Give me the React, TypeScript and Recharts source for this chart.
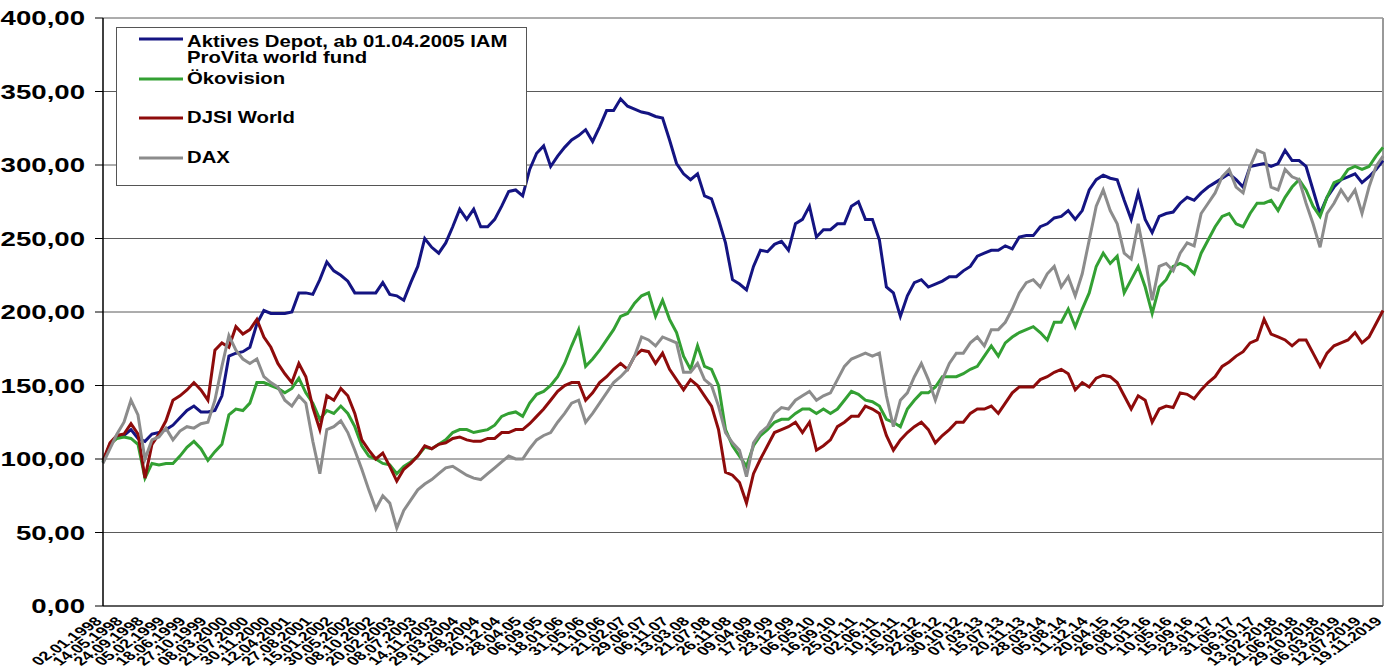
import React from 'react';
import { LineChart, Line, XAxis, YAxis, CartesianGrid, ReferenceLine } from 'recharts';

// tick labels, one every 3 data points
const tickLabels = [
  '02.01.1998', '14.05.1998', '24.09.1998', '05.02.1999', '18.06.1999', '27.10.1999',
  '08.03.2000', '21.07.2000', '30.11.2000', '12.04.2001', '27.08.2001', '15.01.2002',
  '30.05.2002', '08.10.2002', '20.02.2003', '08.07.2003', '14.11.2003', '29.03.2004',
  '11.08.2004', '20.12.04', '28.04.05', '06.09.05', '18.01.06', '31.05.06',
  '11.10.06', '21.02.07', '29.06.07', '06.11.07', '13.03.08', '21.07.08',
  '26.11.08', '09.04.09', '17.08.09', '23.12.09', '06.05.10', '16.09.10',
  '25.01.11', '02.06.11', '10.10.11', '15.02.12', '22.06.12', '30.10.12',
  '07.03.13', '15.07.13', '20.11.13', '28.03.14', '05.08.14', '11.12.14',
  '20.04.15', '26.08.15', '01.01.16', '10.05.16', '15.09.16', '23.01.17',
  '31.05.17', '06.10.17', '13.02.2018', '21.06.2018', '29.10.2018', '06.03.2019',
  '12.07.2019', '19.11.2019',
];

const depot = [
  98, 110, 115, 116, 120, 114, 112, 117, 118, 120, 123, 128, 133, 136, 132, 132,
  133, 143, 170, 172, 173, 176, 192, 201, 199, 199, 199, 200, 213, 213, 212, 222,
  234, 228, 225, 221, 213, 213, 213, 213, 220, 212, 211, 208, 220, 231, 250, 244,
  240, 247, 258, 270, 263, 270, 258, 258, 263, 272, 282, 283, 279, 297,
  308, 313, 299, 306, 312, 317, 320, 324, 316, 326, 337, 337, 345, 340, 338, 336,
  335, 333, 332, 317, 301, 294, 290, 294, 279, 277, 263, 247, 222, 219,
  215, 231, 242, 241, 246, 248, 242, 260, 263, 272, 251, 256, 256, 260, 260, 272,
  275, 263, 263, 249, 217, 213, 197, 211, 220, 222, 217, 219, 221, 224, 224, 228,
  231, 238, 240, 242, 242, 245, 243, 251, 252, 252, 258, 260, 264, 265, 269, 263,
  269, 283, 290, 293, 291, 290, 276, 263, 281, 263, 254, 265, 267, 268,
  274, 278, 276, 281, 285, 288, 291, 294, 290, 285, 299, 300, 301, 299, 301, 310,
  303, 303, 299, 283, 267, 278, 285, 290, 292, 294, 288, 292, 297, 303,
];

const oekovision = [
  98, 110, 114, 115, 114, 110, 87, 97, 96, 97, 97, 102, 108, 112, 107, 99,
  105, 110, 130, 134, 133, 138, 152, 152, 150, 148, 145, 148, 155, 145, 138, 127,
  133, 131, 136, 131, 122, 109, 102, 100, 97, 96, 90, 95, 98, 102, 108, 107,
  110, 113, 118, 120, 120, 118, 119, 120, 123, 129, 131, 132, 129, 138,
  144, 146, 150, 156, 165, 177, 188, 163, 168, 174, 181, 188, 197, 199, 206, 211,
  213, 197, 208, 195, 186, 170, 161, 177, 163, 161, 150, 120, 109, 102,
  95, 109, 116, 120, 125, 127, 127, 131, 134, 134, 131, 134, 131, 134, 140, 146,
  144, 140, 139, 136, 127, 125, 122, 134, 140, 145, 145, 149, 156, 156, 156, 158,
  161, 163, 170, 177, 170, 179, 183, 186, 188, 190, 186, 181, 193, 193, 202, 190,
  202, 213, 231, 240, 233, 238, 213, 222, 231, 217, 199, 217, 222, 231,
  233, 231, 226, 240, 249, 258, 265, 267, 260, 258, 267, 274, 274, 276, 269, 278,
  285, 290, 283, 272, 265, 278, 288, 290, 297, 299, 297, 299, 306, 312,
];

const djsi = [
  99, 111, 116, 117, 124, 117, 87, 110, 117, 126, 140, 143, 147, 152, 147, 140,
  174, 179, 176, 190, 185, 188, 195, 183, 176, 165, 158, 152, 165, 156, 135, 120,
  143, 140, 148, 143, 131, 113, 106, 100, 104, 95, 85, 93, 97, 102, 109, 107,
  110, 111, 114, 115, 113, 112, 112, 114, 114, 118, 118, 120, 120, 124,
  129, 134, 140, 146, 150, 152, 152, 140, 145, 152, 156, 161, 165, 161, 170, 174,
  173, 165, 172, 161, 154, 147, 154, 150, 143, 136, 120, 91, 89, 84,
  70, 90, 100, 109, 118, 120, 122, 125, 118, 125, 106, 109, 113, 122, 125, 129,
  129, 136, 134, 131, 116, 106, 113, 118, 122, 125, 120, 111, 116, 120, 125, 125,
  131, 134, 134, 136, 131, 138, 145, 149, 149, 149, 154, 156, 159, 161, 158, 147,
  152, 149, 155, 157, 156, 152, 143, 134, 143, 140, 125, 134, 136, 135,
  145, 144, 141, 147, 152, 156, 163, 166, 170, 173, 179, 181, 195, 185, 183, 181,
  177, 181, 181, 172, 163, 172, 177, 179, 181, 186, 179, 183, 192, 201,
];

const dax = [
  97, 107, 117, 125, 140, 130, 100, 113, 115, 121, 113, 119, 122, 121, 124, 125,
  140, 163, 184, 174, 168, 165, 168, 156, 152, 149, 140, 136, 143, 138, 112, 90,
  120, 122, 126, 118, 106, 93, 79, 66, 75, 70, 53, 65, 72, 79, 83, 86,
  90, 94, 95, 92, 89, 87, 86, 90, 94, 98, 102, 100, 100, 107,
  113, 116, 118, 125, 131, 138, 140, 125, 131, 138, 145, 152, 156, 161, 170, 183,
  181, 177, 183, 181, 179, 159, 159, 165, 154, 150, 136, 118, 111, 106,
  88, 111, 118, 122, 131, 135, 134, 140, 143, 146, 140, 143, 145, 154, 163, 168,
  170, 172, 170, 172, 143, 122, 140, 145, 156, 165, 154, 140, 154, 165, 172, 172,
  179, 183, 177, 188, 188, 193, 202, 213, 220, 222, 217, 226, 231, 217, 224, 211,
  226, 249, 272, 283, 269, 260, 240, 236, 260, 236, 208, 231, 233, 228,
  240, 247, 245, 267, 274, 281, 292, 297, 285, 281, 299, 310, 308, 285, 283, 297,
  292, 290, 274, 260, 244, 267, 274, 283, 276, 283, 267, 285, 299, 306,
];

const yTicks = [0, 50, 100, 150, 200, 250, 300, 350, 400];

const series = [
  { key: 'depot', color: '#141482' },
  { key: 'oekovision', color: '#33a033' },
  { key: 'djsi', color: '#8e0b0b' },
  { key: 'dax', color: '#8c8c8c' },
];

const chartData = depot.map((v, i) => ({
  i,
  depot: v,
  oekovision: oekovision[i],
  djsi: djsi[i],
  dax: dax[i],
}));

const xTicks = tickLabels.map((_, k) => k * 3);
const FONT = '"Liberation Sans", Arial, sans-serif';

// the original picture is stretched sideways, so the text is too
const YTick = ({ x, y, payload }: any) => (
  <text
    transform={`translate(${x},${y}) scale(1.38,1)`}
    textAnchor="end"
    dominantBaseline="central"
    fontFamily={FONT}
    fontWeight="bold"
    fontSize={20}
    fill="#000"
  >
    {Number(payload.value).toFixed(2).replace('.', ',')}
  </text>
);

const XTick = ({ x, y, payload }: any) => (
  <text
    transform={`translate(${x},${y + 16}) scale(1.45,1) rotate(-45)`}
    textAnchor="end"
    fontFamily={FONT}
    fontWeight="bold"
    fontSize={12.5}
    fill="#000"
  >
    {tickLabels[Math.round(payload.value / 3)]}
  </text>
);

const legendRows = [
  { color: '#141482', lineY: 12, lines: [{ t: 'Aktives Depot, ab 01.04.2005 IAM', y: 20 }, { t: 'ProVita world fund', y: 36 }] },
  { color: '#33a033', lineY: 52, lines: [{ t: 'Ökovision', y: 57 }] },
  { color: '#8e0b0b', lineY: 91, lines: [{ t: 'DJSI World', y: 96 }] },
  { color: '#8c8c8c', lineY: 131, lines: [{ t: 'DAX', y: 136 }] },
];

function LegendBox() {
  return (
    <svg width={412} height={160} style={{ position: 'absolute', left: 116, top: 27 }}>
      <rect x={0.5} y={0.5} width={410} height={158} fill="#fff" stroke="#555" />
      {legendRows.map((r, k) => (
        <g key={k}>
          <line x1={23} x2={67} y1={r.lineY} y2={r.lineY} stroke={r.color} strokeWidth={3} />
          {r.lines.map((l, j) => (
            <text
              key={j}
              transform={`translate(71,${l.y}) scale(1.27,1)`}
              fontFamily={FONT}
              fontWeight="bold"
              fontSize={16}
              fill="#000"
            >
              {l.t}
            </text>
          ))}
        </g>
      ))}
    </svg>
  );
}

export default function App() {
  return (
    <div style={{ position: 'absolute', left: 0, top: 0, width: 1391, height: 671, background: '#fff' }}>
      <LineChart
        width={1391}
        height={671}
        data={chartData}
        margin={{ top: 18, right: 8, left: 0, bottom: 0 }}
      >
        <CartesianGrid horizontal vertical={false} stroke="#5a5a5a" strokeWidth={1} />
        <XAxis
          dataKey="i"
          type="number"
          domain={[0, chartData.length - 1]}
          ticks={xTicks}
          interval={0}
          tick={<XTick />}
          tickLine={false}
          tickSize={0}
          tickMargin={0}
          height={65}
          axisLine={{ stroke: '#444', strokeWidth: 1.5 }}
        />
        <YAxis
          domain={[0, 400]}
          ticks={yTicks}
          interval={0}
          width={103}
          tick={<YTick />}
          tickSize={8}
          tickMargin={10}
          tickLine={{ stroke: '#000' }}
          axisLine={{ stroke: '#000', strokeWidth: 1.5 }}
        />
        <ReferenceLine x={chartData.length - 1} stroke="#999" strokeWidth={2} />
        {series.map((s) => (
          <Line
            key={s.key}
            dataKey={s.key}
            stroke={s.color}
            strokeWidth={3}
            dot={false}
            activeDot={false}
            isAnimationActive={false}
            type="linear"
          />
        ))}
      </LineChart>
      <LegendBox />
    </div>
  );
}
